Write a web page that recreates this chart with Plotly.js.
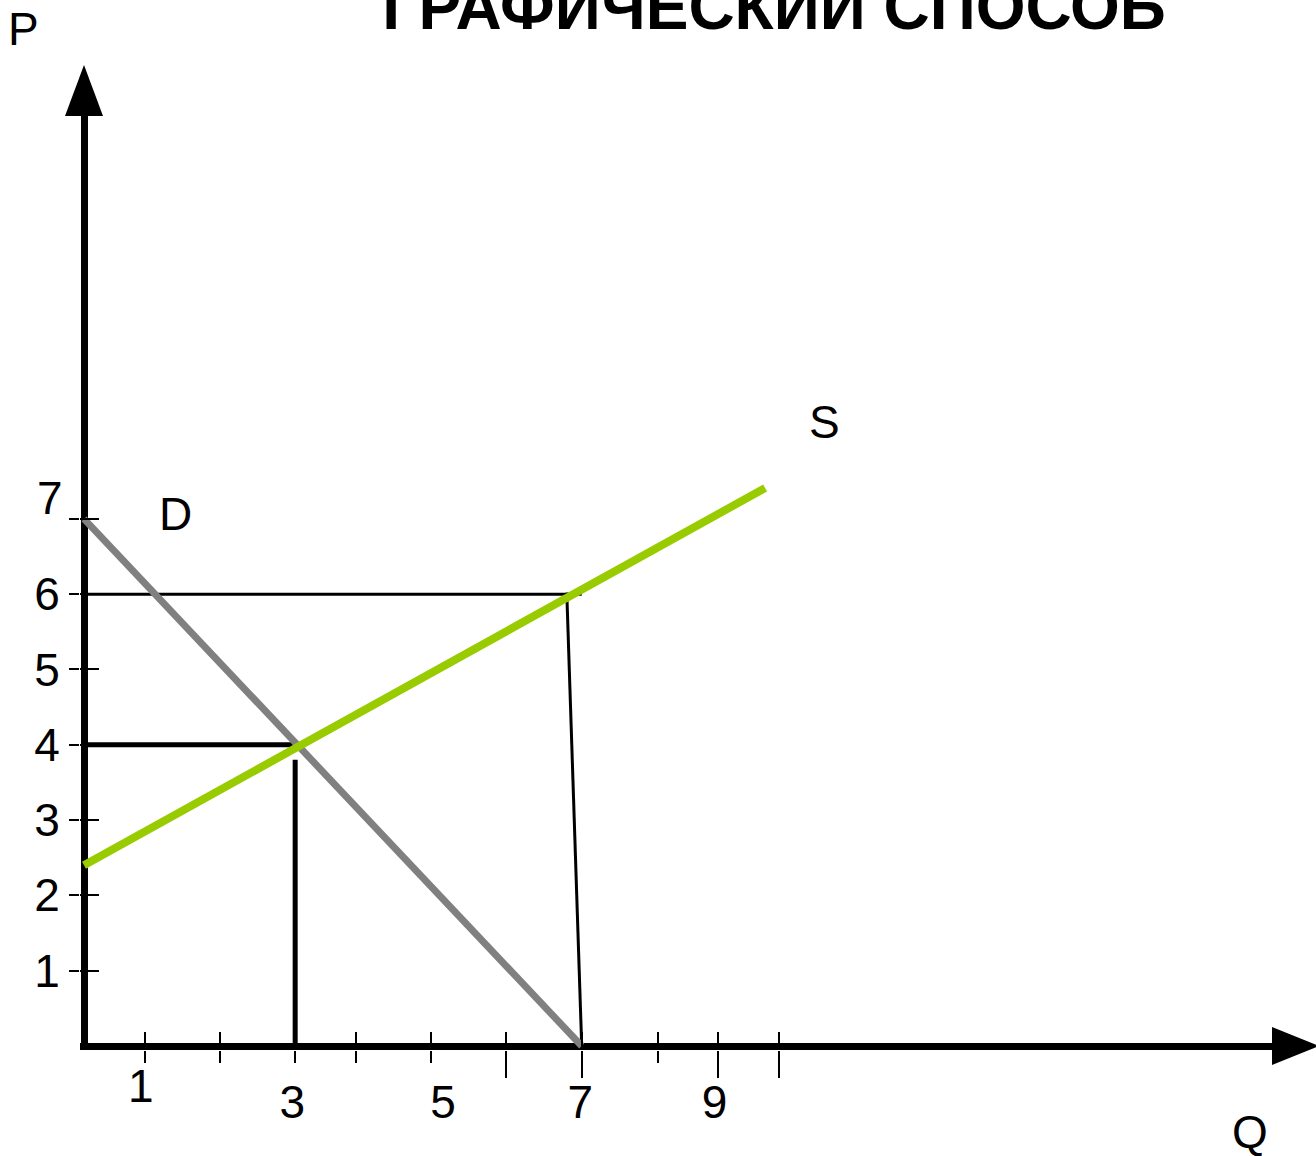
<!DOCTYPE html>
<html><head><meta charset="utf-8">
<script src="https://cdn.plot.ly/plotly-3.0.1.min.js"></script>
<style>html,body{margin:0;padding:0;background:#fff}#chart{width:1316px;height:1156px}</style>
</head><body><div id="chart"></div>
<script>
// ---- data ----
const demandQ = [0, 7];
const demandP = [7, 0];
const supplyQ = [0, 9.58];
const supplyP = [2.4, 7.41];
const eqPriceLineQ = [0, 3.0];
const eqPriceLineP = [4, 4];
const eqQtyLineQ = [2.97, 2.97];
const eqQtyLineP = [3.8, 0];
const highPriceLineQ = [0, 7.0];
const highPriceLineP = [6, 6];
const supplyAtHighQ = [6.79, 7.0];
const supplyAtHighP = [6.02, 0];

const xTickVals = [0.86, 1.91, 2.97, 3.83, 4.88, 5.94, 7.0, 8.07, 8.92, 9.77];
const xLongTickVals = [5.94, 7.0, 8.92, 9.77];
const xLabelVals = [2.93, 5.05, 6.98, 8.87];
const xLabelText = ['3', '5', '7', '9'];
const yTickVals = [1, 2, 3, 4, 5, 6, 7];
const yTickText = ['1', '2', '3', '4', '5', '6', ''];
// tick labels drawn off their usual line in the picture (paper fractions)
const offsetTickLabels = [
  {text: '1', x: 0.0512, y: -0.0385},
  {text: '7', x: -0.0252, y: 0.591}
];

const titleText = 'ГРАФИЧЕСКИЙ СПОСОБ';
const curveLabels = [
  {text: 'D', q: 1.28, p: 7.07},
  {text: 'S', q: 10.41, p: 8.29}
];
// axis names, placed in paper fractions (outside the axis ranges)
const axisLabels = [
  {text: 'P', x: -0.0478, y: 1.0931},
  {text: 'Q', x: 0.9815, y: -0.0878}
];

// ---- styling ----
const FONT = 'Liberation Sans, Arial, sans-serif';
const xRange = [-0.0563, 16.709];
const yRange = [-0.0531, 12.35];
const X0_PAPER = 0.0563 / (16.709 + 0.0563);
const Y0_PAPER = 0.0531 / (12.35 + 0.0531);
const GREEN = '#99cc00';
const GRAY = '#808080';

const traces = [
  {x: highPriceLineQ, y: highPriceLineP, xaxis: 'x', yaxis: 'y', mode: 'lines', line: {color: '#000', width: 3}},
  {x: supplyAtHighQ, y: supplyAtHighP, xaxis: 'x', yaxis: 'y', mode: 'lines', line: {color: '#000', width: 3}},
  {x: eqPriceLineQ, y: eqPriceLineP, xaxis: 'x2', yaxis: 'y2', mode: 'lines', line: {color: '#000', width: 5}},
  {x: eqQtyLineQ, y: eqQtyLineP, xaxis: 'x2', yaxis: 'y2', mode: 'lines', line: {color: '#000', width: 5}},
  {x: demandQ, y: demandP, xaxis: 'x3', yaxis: 'y', mode: 'lines', line: {color: GRAY, width: 7}},
  {x: supplyQ, y: supplyP, xaxis: 'x4', yaxis: 'y', mode: 'lines', line: {color: GREEN, width: 8}}
];

const labelFont = {family: FONT, size: 46, color: '#000'};
const annotations = curveLabels.map(l => ({
  text: l.text, x: l.q, y: l.p, xref: 'x', yref: 'y', showarrow: false,
  xanchor: 'center', yanchor: 'middle', font: labelFont
})).concat(axisLabels.concat(offsetTickLabels).map(l => ({
  text: l.text, x: l.x, y: l.y, xref: 'paper', yref: 'paper', showarrow: false,
  xanchor: 'center', yanchor: 'middle', font: labelFont
})));

const tickAxis = (extra) => Object.assign({
  range: xRange, overlaying: 'x', anchor: 'y', side: 'bottom',
  showgrid: false, showline: false, zeroline: false, showticklabels: false,
  tickmode: 'array', tickwidth: 2, tickcolor: '#000'
}, extra);

const layout = {
  width: 1316, height: 1156,
  margin: {l: 80, r: 44, t: 116, b: 106, pad: 0},
  paper_bgcolor: '#fff', plot_bgcolor: '#fff',
  showlegend: false,
  title: {
    text: '<b>' + titleText + '</b>',
    x: 774 / 1316, xref: 'container', xanchor: 'center',
    y: 1 - 7 / 1156, yref: 'container', yanchor: 'middle',
    font: {family: FONT, size: 64, color: '#000'}
  },
  xaxis: {
    range: xRange, showgrid: false, showline: false,
    zeroline: true, zerolinecolor: '#000', zerolinewidth: 7,
    tickmode: 'array', tickvals: xLabelVals, ticktext: xLabelText,
    ticks: 'outside', ticklen: 12, tickcolor: 'rgba(0,0,0,0)', tickwidth: 1,
    tickfont: {family: FONT, size: 46, color: '#000'}
  },
  xaxis2: tickAxis({tickvals: xTickVals, ticks: 'outside', ticklen: 12}),
  xaxis3: tickAxis({tickvals: xTickVals, ticks: 'inside', ticklen: 18}),
  xaxis4: tickAxis({tickvals: xLongTickVals, ticks: 'outside', ticklen: 27}),
  yaxis: {
    range: yRange, showgrid: false, showline: false,
    zeroline: true, zerolinecolor: '#000', zerolinewidth: 7,
    tickmode: 'array', tickvals: yTickVals, ticktext: yTickText,
    ticks: 'outside', ticklen: 10, tickwidth: 2, tickcolor: '#000',
    tickfont: {family: FONT, size: 46, color: '#000'}
  },
  yaxis2: {
    range: yRange, overlaying: 'y', anchor: 'x', side: 'left',
    showgrid: false, showline: false, zeroline: false,
    tickmode: 'array', tickvals: yTickVals, showticklabels: false,
    ticks: 'inside', ticklen: 19, tickwidth: 2, tickcolor: '#000'
  },
  shapes: [
    {type: 'path', xref: 'paper', yref: 'paper', xsizemode: 'pixel', ysizemode: 'pixel',
     xanchor: X0_PAPER, yanchor: 1, path: 'M-19,0 L19,0 L0,51 Z',
     fillcolor: '#000', line: {width: 0}},
    {type: 'path', xref: 'paper', yref: 'paper', xsizemode: 'pixel', ysizemode: 'pixel',
     xanchor: 1, yanchor: Y0_PAPER, path: 'M0,-19 L0,19 L47,0 Z',
     fillcolor: '#000', line: {width: 0}}
  ],
  annotations: annotations
};

Plotly.newPlot('chart', traces, layout, {displayModeBar: false, staticPlot: true});
</script>
</body></html>
